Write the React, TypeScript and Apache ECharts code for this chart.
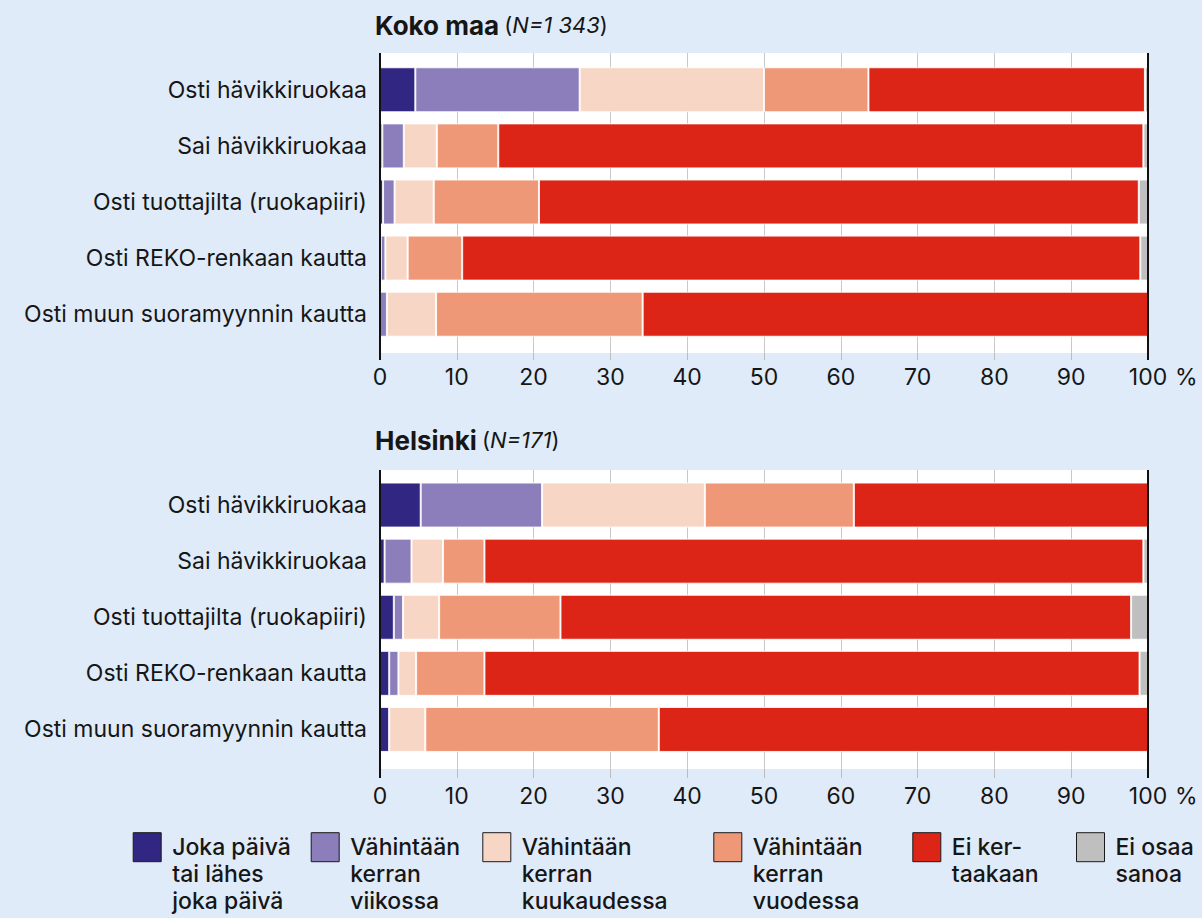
import React, { useEffect, useRef } from "react";
import * as echarts from "echarts";

const FONT = "Inter, Roboto, sans-serif";
const BG = "#dfebf9";
const TEXT = "#161616";

const categories = [
  "Osti hävikkiruokaa",
  "Sai hävikkiruokaa",
  "Osti tuottajilta (ruokapiiri)",
  "Osti REKO-renkaan kautta",
  "Osti muun suoramyynnin kautta",
];

const seriesNames = [
  "Joka päivä\ntai lähes\njoka päivä",
  "Vähintään\nkerran\nviikossa",
  "Vähintään\nkerran\nkuukaudessa",
  "Vähintään\nkerran\nvuodessa",
  "Ei ker-\ntaakaan",
  "Ei osaa\nsanoa",
];
const colors = ["#312782", "#8b7eba", "#f8d6c5", "#ef9877", "#dc2516", "#bfbfbf"];

// Koko maa (N=1 343)
const kokoDaily = [4.6, 0.3, 0.4, 0.1, 0];
const kokoWeekly = [21.4, 2.8, 1.5, 0.6, 0.9];
const kokoMonthly = [24.0, 4.3, 5.1, 2.9, 6.4];
const kokoYearly = [13.6, 8.0, 13.7, 7.1, 26.9];
const kokoNever = [36.0, 84.0, 78.1, 88.3, 65.8];
const kokoDontKnow = [0.4, 0.6, 1.2, 1.0, 0];

// Helsinki (N=171)
const helDaily = [5.3, 0.6, 1.8, 1.2, 1.2];
const helWeekly = [15.8, 3.5, 1.2, 1.2, 0];
const helMonthly = [21.2, 4.1, 4.7, 2.3, 4.7];
const helYearly = [19.4, 5.4, 15.8, 8.9, 30.4];
const helNever = [38.3, 85.8, 74.3, 85.3, 63.7];
const helDontKnow = [0, 0.6, 2.2, 1.1, 0];

const kokoSets = [kokoDaily, kokoWeekly, kokoMonthly, kokoYearly, kokoNever, kokoDontKnow];
const helSets = [helDaily, helWeekly, helMonthly, helYearly, helNever, helDontKnow];

const xTicks = [0, 10, 20, 30, 40, 50, 60, 70, 80, 90, 100];

const legendLefts = [132.7, 310.7, 482.3, 713.3, 912.3, 1076];

function buildOption() {
  const PL = 380;
  const PW = 768;
  const panels = [
    { bgTop: 53, bgH: 300, barTop: 61.7, barH: 280.6, labelMargin: 12, tickLen: 7 },
    { bgTop: 470, bgH: 299, barTop: 477, barH: 280.5, labelMargin: 15, tickLen: 9 },
  ];

  const grid: any[] = [];
  const xAxis: any[] = [];
  const yAxis: any[] = [];
  panels.forEach((p) => {
    grid.push({
      left: PL, width: PW, top: p.bgTop, height: p.bgH,
      show: true, backgroundColor: "#ffffff", borderWidth: 0,
    });
    grid.push({ left: PL, width: PW, top: p.barTop, height: p.barH });
  });
  panels.forEach((p, i) => {
    xAxis.push({
      type: "value", gridIndex: i * 2, min: 0, max: 100, interval: 10,
      axisLine: { show: false },
      axisTick: { show: true, length: p.tickLen, lineStyle: { color: "#bdbdbd", width: 1 } },
      splitLine: { show: true, lineStyle: { color: "#c9c9c9", width: 1 } },
      axisLabel: {
        fontSize: 23, color: TEXT, fontFamily: FONT, margin: p.labelMargin,
        formatter: (v: number) => (xTicks.includes(v) ? String(v) : ""),
      },
      name: "%", nameLocation: "end", nameGap: 27,
      nameTextStyle: {
        fontSize: 23, color: TEXT, fontFamily: FONT, align: "left",
        verticalAlign: "top", padding: [p.labelMargin, 0, 0, 0],
      },
    });
    xAxis.push({ type: "value", gridIndex: i * 2 + 1, min: 0, max: 100, show: false });
    yAxis.push({ type: "category", gridIndex: i * 2, show: false, data: categories });
    yAxis.push({
      type: "category", gridIndex: i * 2 + 1, inverse: true, data: categories,
      axisLine: { show: false }, axisTick: { show: false }, splitLine: { show: false },
      axisLabel: { fontSize: 23, color: TEXT, fontFamily: FONT, margin: 13 },
    });
  });

  const series: any[] = [];
  [kokoSets, helSets].forEach((sets, pi) => {
    sets.forEach((vals, si) => {
      series.push({
        type: "bar", name: seriesNames[si], stack: "p" + pi,
        xAxisIndex: pi * 2 + 1, yAxisIndex: pi * 2 + 1,
        barWidth: 45, data: vals,
        itemStyle: { color: colors[si], borderColor: "rgba(255,255,255,0.85)", borderWidth: 1 },
        emphasis: { disabled: true },
      });
    });
  });

  // Text block is centred on the icon: two blank lines on top put line 1 beside the icon.
  const legend = seriesNames.map((name, i) => ({
    data: [name],
    left: legendLefts[i], top: 779.7, padding: 0,
    itemWidth: 28, itemHeight: 29, icon: "rect", orient: "horizontal",
    itemStyle: { borderColor: "#1a1a1a", borderWidth: 1 },
    formatter: (n: string) => {
      const lines = n.split("\n");
      while (lines.length < 3) lines.push(" ");
      return [" ", " ", ...lines].join("\n");
    },
    textStyle: {
      fontSize: 23, fontWeight: 500, color: TEXT, fontFamily: FONT,
      lineHeight: 27, padding: [0, 0, 0, 6],
    },
  }));

  const titleRich = {
    b: { fontSize: 26, fontWeight: "bold", color: TEXT, fontFamily: FONT },
    r: { fontSize: 22, fontWeight: "normal", color: TEXT, fontFamily: FONT },
    i: { fontSize: 22, fontWeight: "normal", fontStyle: "italic", color: TEXT, fontFamily: FONT },
  };
  const title = [
    { left: 375, top: 12, padding: 0, text: "{b|Koko maa} {r|(}{i|N=1 343}{r|)}", textStyle: { rich: titleRich } },
    { left: 375, top: 427, padding: 0, text: "{b|Helsinki} {r|(}{i|N=171}{r|)}", textStyle: { rich: titleRich } },
  ];

  const vline = (x: number, y1: number, y2: number) => ({
    type: "line", z: 100,
    shape: { x1: x, y1, x2: x, y2 },
    style: { stroke: "#111", lineWidth: 2 },
  });
  const graphic = [
    vline(380, 53, 360), vline(1148, 53, 360),
    vline(380, 470, 778), vline(1148, 470, 778),
  ];

  return {
    animation: false,
    backgroundColor: BG,
    title, grid, xAxis, yAxis, series, legend, graphic,
  };
}

export default function App() {
  const ref = useRef<HTMLDivElement>(null);
  useEffect(() => {
    const chart = echarts.init(ref.current!, null, { renderer: "svg" });
    chart.setOption(buildOption() as any);
    return () => chart.dispose();
  }, []);
  return (
    <div
      ref={ref}
      style={{ position: "fixed", left: 0, top: 0, width: 1202, height: 918, background: BG }}
    />
  );
}
